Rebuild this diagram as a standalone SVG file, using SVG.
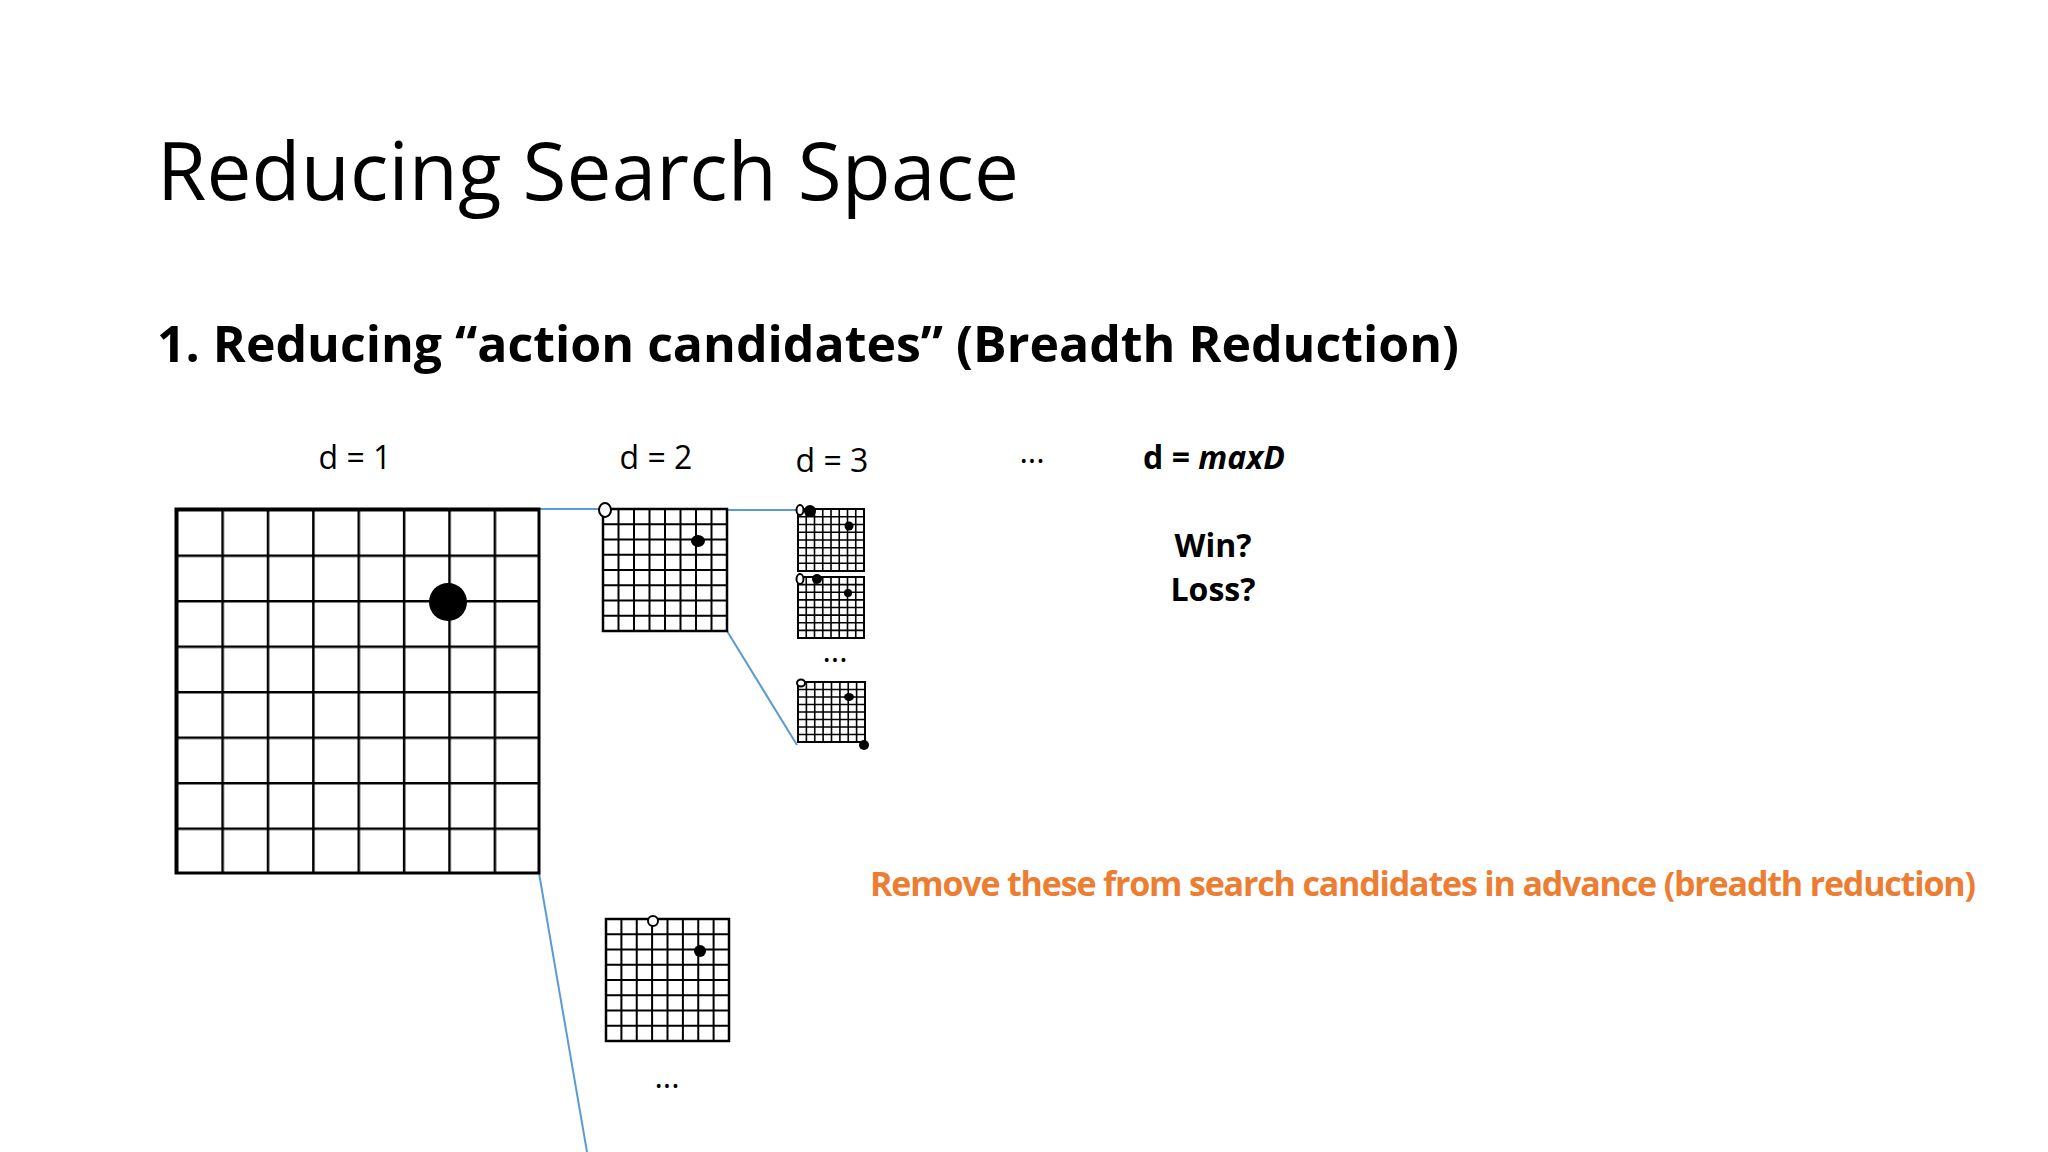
<svg xmlns="http://www.w3.org/2000/svg" width="2048" height="1152" viewBox="0 0 2048 1152">
<defs>
<style>
.t{font-family:"Open Sans","Liberation Sans",sans-serif;fill:#000}
.g{fill:none;stroke:#000}
.c{fill:none;stroke:#5B9BD5;stroke-width:2}
.w{fill:#fff;stroke:#000;stroke-width:2}
</style>
<pattern id="p1" x="176" y="509" width="45.375" height="45.5" patternUnits="userSpaceOnUse"><path d="M0 0H45.375M0 0V45.5" stroke="#000" stroke-width="5" fill="none"/></pattern>
</defs>
<rect width="2048" height="1152" fill="#fff"/>
<text class="t" x="157" y="200" font-size="80" textLength="862">Reducing Search Space</text>
<text class="t" x="157" y="362" font-size="50" font-weight="bold" textLength="1302">1. Reducing “action candidates” (Breadth Reduction)</text>
<g id="labels" class="t" font-size="32" text-anchor="middle">
<text x="355" y="469">d = 1</text>
<text x="656" y="469">d = 2</text>
<text x="832" y="472">d = 3</text>
<text x="1032" y="463">...</text>
<text x="1214" y="469" font-weight="bold">d = <tspan font-style="italic">maxD</tspan></text>
<text x="1213" y="557" font-weight="bold">Win?</text>
<text x="1213" y="601" font-weight="bold">Loss?</text>
<text x="835" y="662">...</text>
<text x="667" y="1088">...</text>
</g>
<text class="t" x="1423" y="896" font-size="34" font-weight="bold" style="fill:#ED7D31" text-anchor="middle" textLength="1106">Remove these from search candidates in advance (breadth reduction)</text>
<g id="connectors">
<path class="c" d="M539 509H603"/>
<path class="c" d="M727 510H797"/>
<path class="c" d="M727 631L797 745"/>
<path class="c" d="M539 873L587 1152"/>
</g>
<g id="board1">
<rect x="176" y="509" width="363" height="364" fill="url(#p1)" stroke="#000" stroke-width="3"/>
<circle cx="448" cy="602" r="19"/>
</g>
<g id="board2">
<rect x="603" y="509" width="124" height="122" class="g" stroke-width="2.5"/>
<path class="g" stroke-width="2" d="M618.5 509V631M634 509V631M649.5 509V631M665 509V631M680.5 509V631M696 509V631M711.5 509V631M603 524.25H727M603 539.5H727M603 554.75H727M603 570H727M603 585.25H727M603 600.5H727M603 615.75H727"/>
<ellipse cx="605" cy="510" rx="6" ry="7" class="w"/>
<ellipse cx="698" cy="541" rx="7" ry="6"/>
</g>
<g id="board3a">
<rect x="798" y="509" width="66" height="62" class="g" stroke-width="2"/>
<path class="g" stroke-width="1.6" d="M806.25 509V571M814.5 509V571M822.75 509V571M831 509V571M839.25 509V571M847.5 509V571M855.75 509V571M798 516.75H864M798 524.5H864M798 532.25H864M798 540H864M798 547.75H864M798 555.5H864M798 563.25H864"/>
<ellipse cx="800" cy="510" rx="3.5" ry="5" class="w"/>
<circle cx="810" cy="511" r="6"/>
<circle cx="849" cy="526" r="4.5"/>
</g>
<g id="board3b">
<rect x="798" y="577" width="66" height="61" class="g" stroke-width="2"/>
<path class="g" stroke-width="1.6" d="M806.25 577V638M814.5 577V638M822.75 577V638M831 577V638M839.25 577V638M847.5 577V638M855.75 577V638M798 584.6H864M798 592.25H864M798 599.9H864M798 607.5H864M798 615.1H864M798 622.75H864M798 630.4H864"/>
<ellipse cx="800" cy="579" rx="3.5" ry="5" class="w"/>
<circle cx="817" cy="579" r="5"/>
<circle cx="848" cy="593" r="4"/>
</g>
<g id="board3c">
<rect x="798" y="682" width="67" height="60" class="g" stroke-width="2"/>
<path class="g" stroke-width="1.6" d="M806.4 682V742M814.75 682V742M823.1 682V742M831.5 682V742M839.9 682V742M848.25 682V742M856.6 682V742M798 689.5H865M798 697H865M798 704.5H865M798 712H865M798 719.5H865M798 727H865M798 734.5H865"/>
<ellipse cx="801" cy="683" rx="4" ry="3.5" class="w"/>
<ellipse cx="849" cy="697" rx="5" ry="4"/>
<circle cx="864" cy="745" r="5"/>
</g>
<g id="board4">
<rect x="606" y="919" width="123" height="122" class="g" stroke-width="2.5"/>
<path class="g" stroke-width="2" d="M621.4 919V1041M636.75 919V1041M652.1 919V1041M667.5 919V1041M682.9 919V1041M698.25 919V1041M713.6 919V1041M606 934.25H729M606 949.5H729M606 964.75H729M606 980H729M606 995.25H729M606 1010.5H729M606 1025.75H729"/>
<circle cx="653" cy="921" r="5" class="w"/>
<circle cx="700" cy="951" r="6"/>
</g>
</svg>
